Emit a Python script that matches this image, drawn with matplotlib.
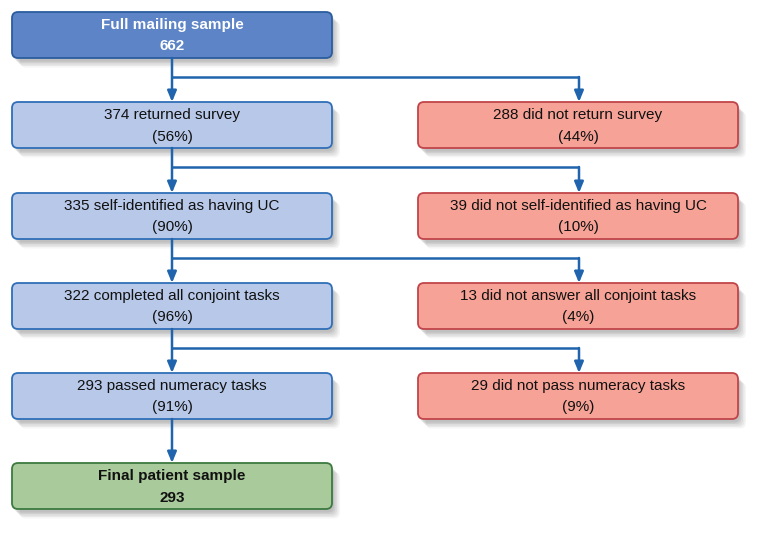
import matplotlib
matplotlib.use("Agg")
import matplotlib.pyplot as plt
from matplotlib.patches import FancyBboxPatch

# ---- data ----
top_label = ["Full mailing sample", "662"]
left_labels = [
    ["374 returned survey", "(56%)"],
    ["335 self-identified as having UC", "(90%)"],
    ["322 completed all conjoint tasks", "(96%)"],
    ["293 passed numeracy tasks", "(91%)"],
]
right_labels = [
    ["288 did not return survey", "(44%)"],
    ["39 did not self-identified as having UC", "(10%)"],
    ["13 did not answer all conjoint tasks", "(4%)"],
    ["29 did not pass numeracy tasks", "(9%)"],
]
final_label = ["Final patient sample", "293"]

# ---- layout (pixel coordinates) ----
W, H = 762, 533
fig = plt.figure(figsize=(W / 100, H / 100), dpi=100)
ax = fig.add_axes([0, 0, 1, 1])
ax.set_xlim(0, W)
ax.set_ylim(H, 0)
ax.axis("off")

plt.rcParams["font.family"] = ["Liberation Sans", "DejaVu Sans"]

LX0, LX1 = 12, 332
RX0, RX1 = 418, 738
BH = 46
row_tops = [12, 102, 193, 283, 373, 463]

line_c = "#1f64ad"
styles = {
    "dark": dict(fc="#5c84c6", ec="#2b5d9e"),
    "light": dict(fc="#b7c8e8", ec="#2f6fb8"),
    "red": dict(fc="#f6a296", ec="#c0454a"),
    "green": dict(fc="#a9ca9b", ec="#3c7a40"),
}


def box(x0, x1, top, lines, style, bold=False, tcolor="#111111"):
    w = x1 - x0
    # soft shadow
    for i, a in enumerate([0.07, 0.06, 0.05, 0.05, 0.04]):
        off = 2 + i * 1.5
        sh = FancyBboxPatch((x0 + off, top + off + 1.5), w, BH,
                            boxstyle="round,pad=0,rounding_size=6",
                            fc="#000000", ec="none", alpha=a, zorder=1)
        ax.add_patch(sh)
    p = FancyBboxPatch((x0, top), w, BH,
                       boxstyle="round,pad=0,rounding_size=6",
                       lw=1.3, zorder=2, **styles[style])
    ax.add_patch(p)
    cx = (x0 + x1) / 2
    cy = top + BH / 2
    fw = "bold" if bold else "normal"
    ax.text(cx, cy - 10, lines[0], ha="center", va="center",
            fontsize=11, fontweight=fw, color=tcolor, zorder=3)
    ax.text(cx, cy + 11.5, lines[1], ha="center", va="center",
            fontsize=11, fontweight=fw, color=tcolor, zorder=3)


def arrow(x, y0, y1):
    ax.annotate("", xy=(x, y1), xytext=(x, y0),
                arrowprops=dict(arrowstyle="-|>,head_length=0.65,head_width=0.27",
                                color=line_c, lw=1.8, shrinkA=0, shrinkB=0),
                zorder=4)


lcx = (LX0 + LX1) / 2
rcx = (RX0 + RX1) / 2 + 1

box(LX0, LX1, row_tops[0], top_label, "dark", bold=True, tcolor="white")
for i, lab in enumerate(left_labels):
    box(LX0, LX1, row_tops[i + 1], lab, "light")
for i, lab in enumerate(right_labels):
    box(RX0, RX1, row_tops[i + 1], lab, "red")
box(LX0, LX1, row_tops[5], final_label, "green", bold=True)

# connectors
for i in range(5):
    y_bot = row_tops[i] + BH
    y_next = row_tops[i + 1]
    arrow(lcx, y_bot, y_next)
    if i < 4:
        ymid = y_bot + 19
        ax.plot([lcx, rcx], [ymid, ymid], color=line_c, lw=1.8, zorder=4,
                solid_capstyle="butt")
        arrow(rcx, ymid, y_next)

fig.savefig("out.png", dpi=100, facecolor="white")
